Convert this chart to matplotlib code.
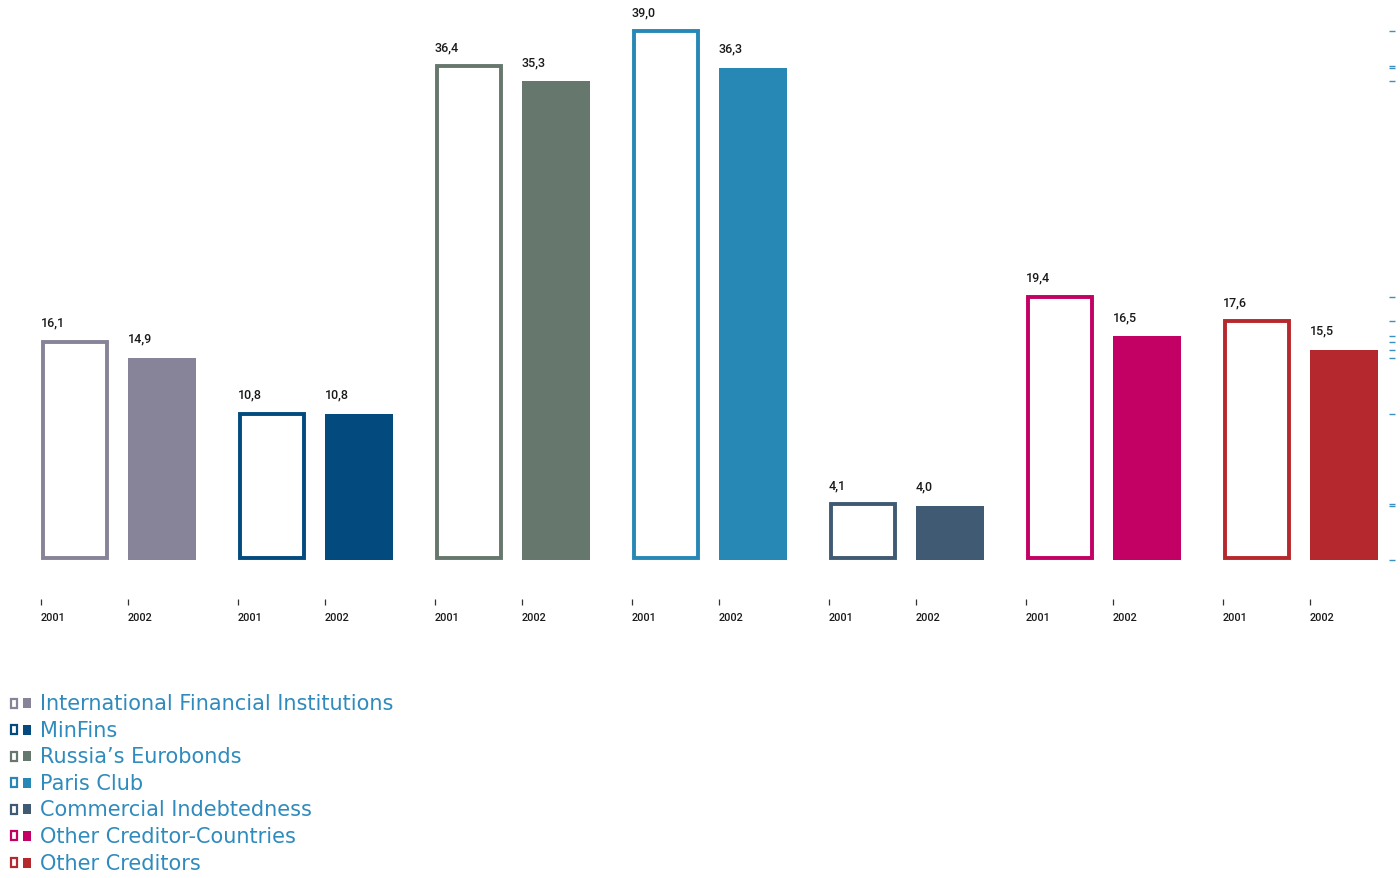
import matplotlib.pyplot as plt
from matplotlib.patches import Rectangle

# external debt by creditor group, 2001 vs 2002
categories = ['International Financial Institutions', 'MinFins', 'Russia’s Eurobonds',
              'Paris Club', 'Commercial Indebtedness', 'Other Creditor-Countries',
              'Other Creditors']
years = ['2001', '2002']
debt_2001 = [16.1, 10.8, 36.4, 39.0, 4.1, 19.4, 17.6]
debt_2002 = [14.9, 10.8, 35.3, 36.3, 4.0, 16.5, 15.5]
colors = ['#878499', '#034a7e', '#66776e', '#2888b5', '#405a73', '#c30064', '#b5282e']

TEXT_BLUE = '#2f8bbd'
W, H = 1400, 879

plt.rcParams['font.family'] = ['Roboto', 'DejaVu Sans']

fig = plt.figure(figsize=(W / 100, H / 100), dpi=100)
fig.patch.set_facecolor('white')

# axes in pixel terms: baseline at y=561, top at y=32, right edge at x=1389
ax = fig.add_axes([0, (H - 561) / H, 1389 / W, (561 - 32) / H])
group_w = 197.0
bar_w = 68 / group_w
offset = 87 / group_w
ax.set_xlim(-41 / group_w, (1389 - 41) / group_w)
ax.set_ylim(0, max(debt_2001 + debt_2002))

lw = 2.8
xticks, xlabels = [], []
for i, (v1, v2, c) in enumerate(zip(debt_2001, debt_2002, colors)):
    x1, x2 = i, i + offset
    # 2001: outlined, 2002: filled
    ax.bar(x1 + 0.008, v1 - 0.12, width=bar_w - 0.016, bottom=0.12, align='edge',
           facecolor='white', edgecolor=c, linewidth=lw, clip_on=False)
    ax.bar(x2, v2, width=bar_w, align='edge', color=c, linewidth=0, clip_on=False)
    for x, v in ((x1, v1), (x2, v2)):
        ax.annotate(f'{v:.1f}'.replace('.', ','), (x, v), xytext=(0, 16),
                    textcoords='offset pixels', ha='left', va='baseline',
                    fontsize=9, fontweight='medium', color='#1a1a1a',
                    annotation_clip=False)
    xticks += [x1, x2]
    xlabels += years

for s in ax.spines.values():
    s.set_visible(False)
ax.spines['bottom'].set_position(('outward', 28))
ax.set_xticks(xticks)
ax.set_xticklabels(xlabels, ha='left', fontsize=7.8, fontweight='medium', color='#1a1a1a')
ax.tick_params(axis='x', length=4.5, width=0.9, color='#333333', pad=5)

ax.yaxis.tick_right()
ax.set_yticks(sorted(set(debt_2001 + debt_2002 + [0])))
ax.set_yticklabels([])
ax.tick_params(axis='y', length=4.5, width=1.0, color='#3a90c0', direction='out')

# legend drawn in pixel space
leg = fig.add_axes([0, 0, 1, 1], zorder=-1)
leg.set_xlim(0, W)
leg.set_ylim(H, 0)
leg.axis('off')
for k, (name, c) in enumerate(zip(categories, colors)):
    yc = 704 + 26.6 * k
    leg.add_patch(Rectangle((11, yc - 4.5), 6, 9, facecolor='white', edgecolor=c, linewidth=1.6))
    leg.add_patch(Rectangle((23, yc - 5), 8, 10, facecolor=c, linewidth=0))
    leg.text(40, yc, name, ha='left', va='center', fontsize=15, color=TEXT_BLUE,
             family='DejaVu Sans')

fig.savefig('out.png', dpi=100, facecolor='white')
